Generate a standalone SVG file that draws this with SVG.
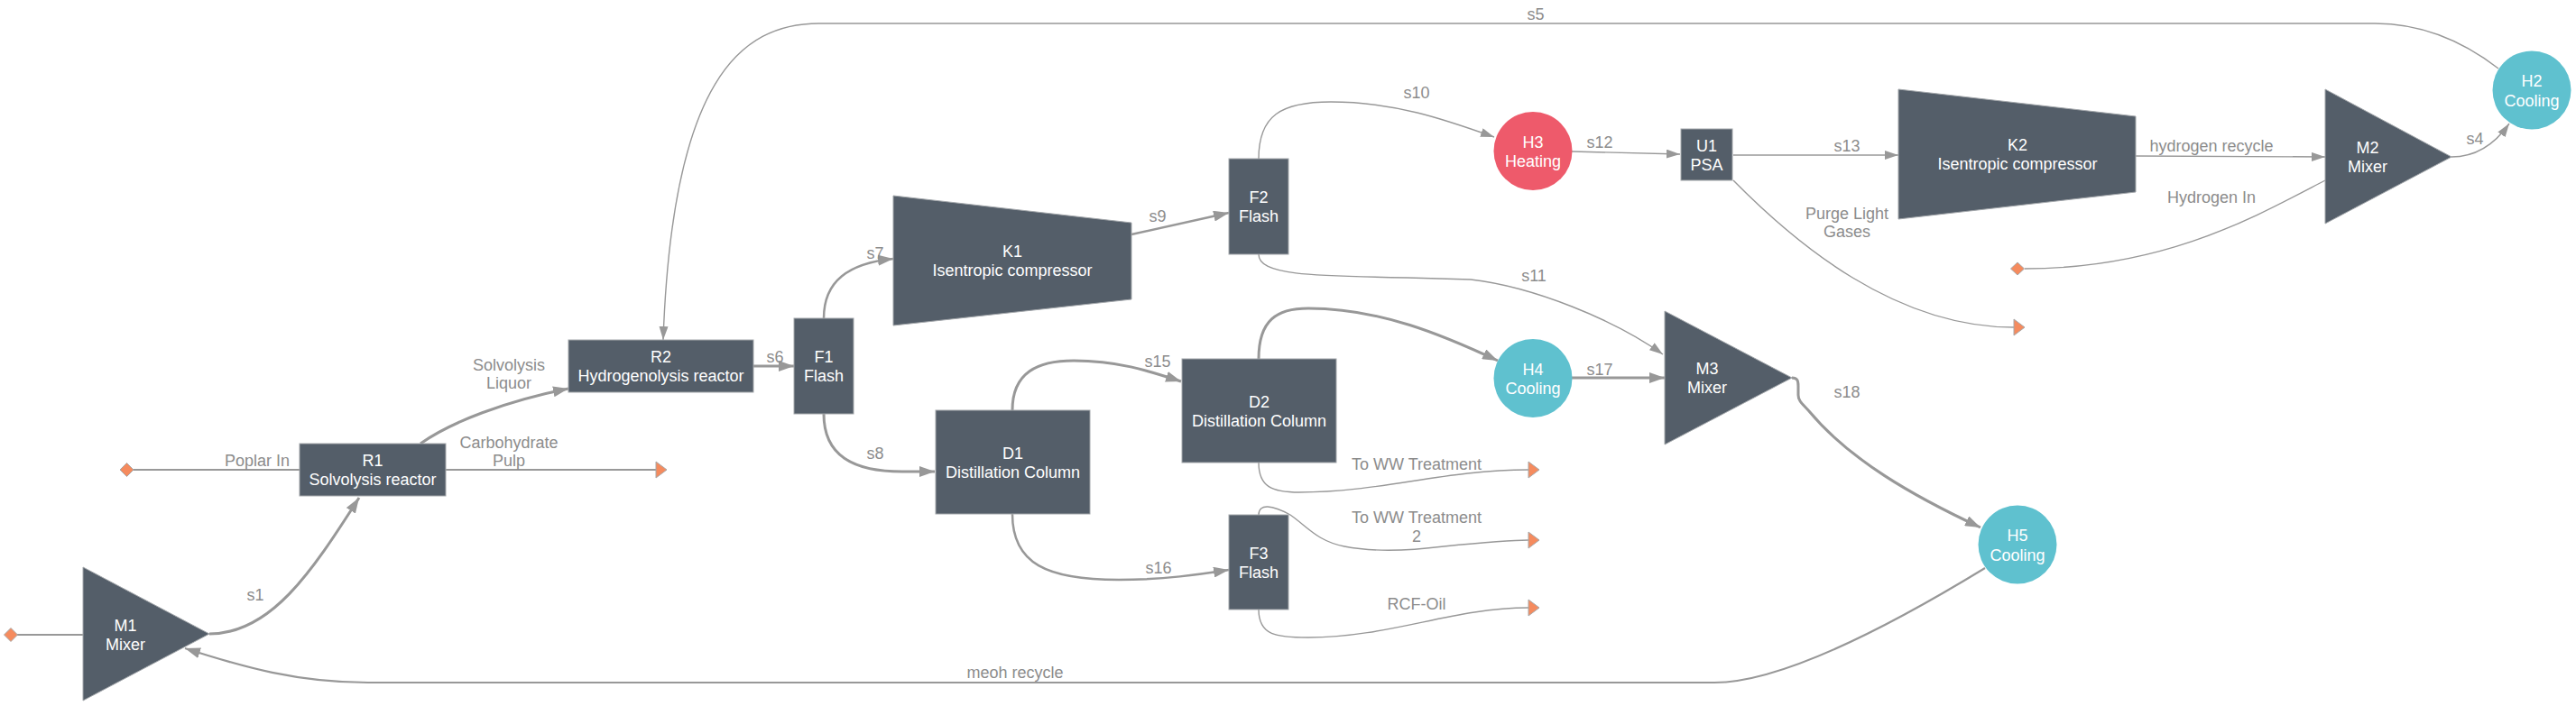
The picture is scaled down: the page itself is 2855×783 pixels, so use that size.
<svg xmlns="http://www.w3.org/2000/svg" width="2855" height="783" viewBox="0 0 2855 783">
<style>
.ln{fill:none;stroke:#989898;stroke-width:1.4}
.md{stroke-width:2}
.tk{stroke-width:3}
.lbl{font-family:"Liberation Sans",Arial,sans-serif;font-size:18px;fill:#8c8c8c;text-anchor:middle}
.nt{font-family:"Liberation Sans",Arial,sans-serif;font-size:18px;fill:#ffffff;text-anchor:middle}
.unit{fill:#545e69;stroke:#a3a7ab;stroke-width:1}
.hot{fill:#ee5a6b}
.cold{fill:#5fc1cf}
.term{fill:#f58b5e;stroke:#a8a8a8;stroke-width:1}
</style>
<defs>
<marker id="aT" viewBox="0 0 17 12" refX="17" refY="6" markerWidth="17" markerHeight="12" markerUnits="userSpaceOnUse" orient="auto"><path d="M0,0 L17,6 L0,12 z" fill="#989898"/></marker>
<marker id="at" viewBox="0 0 15 10" refX="15" refY="5" markerWidth="15" markerHeight="10" markerUnits="userSpaceOnUse" orient="auto"><path d="M0,0 L15,5 L0,10 z" fill="#989898"/></marker>
</defs>
<rect width="2855" height="783" fill="#ffffff"/>
<g id="connectors">
<path class="ln md" d="M148,521 L332,521"/>
<path class="ln md" d="M19,704 L92,704"/>
<path class="ln tk" d="M232,703 C300,703 345,635 398,552" marker-end="url(#aT)"/>
<path class="ln tk" d="M466,492 C500,468 560,445 630,431" marker-end="url(#aT)"/>
<path class="ln md" d="M494,521 L727,521"/>
<path class="ln" d="M2769,76 C2725,42 2680,26 2632,26 L908,26 C820,26 745,90 735,377" marker-end="url(#at)"/>
<path class="ln tk" d="M835,406 L880,406" marker-end="url(#aT)"/>
<path class="ln tk" style="stroke-width:2.5" d="M913,353 C913,312 940,292 990,287" marker-end="url(#aT)"/>
<path class="ln tk" d="M913,459 C913,505 945,523 1000,523 L1036,523" marker-end="url(#aT)"/>
<path class="ln tk" style="stroke-width:2.5" d="M1254,260 L1362,236" marker-end="url(#aT)"/>
<path class="ln" d="M1395,176 C1395,128 1420,113 1475,113 C1545,113 1600,132 1656,152" marker-end="url(#at)"/>
<path class="ln" d="M1395,282 C1395,305 1450,306 1560,308 L1630,310 C1700,318 1790,355 1843,393" marker-end="url(#at)"/>
<path class="ln" d="M1742,168 L1862,171" marker-end="url(#at)"/>
<path class="ln" d="M1921,172 L2104,172" marker-end="url(#at)"/>
<path class="ln" d="M1921,200 C1990,270 2100,363 2232,363"/>
<path class="ln" d="M2367,173 L2577,174" marker-end="url(#at)"/>
<path class="ln" d="M2244,298 C2400,298 2500,240 2577,200"/>
<path class="ln" d="M2717,174 C2745,174 2765,160 2781,137" marker-end="url(#at)"/>
<path class="ln tk" d="M1122,455 C1122,413 1150,400 1190,400 C1240,400 1275,412 1309,423" marker-end="url(#aT)"/>
<path class="ln tk" d="M1395,398 C1395,355 1415,342 1450,342 C1530,342 1600,372 1660,400" marker-end="url(#aT)"/>
<path class="ln tk" d="M1742,419 L1845,419" marker-end="url(#aT)"/>
<path class="ln" d="M1395,513 C1395,540 1410,546 1440,546 C1530,546 1600,521 1694,521"/>
<path class="ln" d="M1395,571 C1395,558 1410,560 1430,571 C1450,585 1460,600 1490,606 C1520,612 1560,611 1600,606 C1640,602 1670,599 1694,599"/>
<path class="ln" d="M1395,676 C1395,705 1415,707 1450,707 C1540,707 1610,674 1694,674"/>
<path class="ln tk" style="stroke-width:2.5" d="M1122,570 C1122,625 1160,643 1240,643 C1290,643 1330,637 1362,632" marker-end="url(#aT)"/>
<path class="ln tk" d="M1986,419 C1992,419 1993,422 1993,428 L1993,438 C1993,445 1998,448 2005,456 C2050,510 2120,550 2195,585" marker-end="url(#aT)"/>
<path class="ln tk" style="stroke-width:2.2" d="M2200,630 Q1992,757 1900,757 L408,757 C330,757 270,740 205,719" marker-end="url(#aT)"/>
<text class="lbl" x="285" y="517">Poplar In</text>
<text class="lbl" x="564" y="497">Carbohydrate</text>
<text class="lbl" x="564" y="517">Pulp</text>
<text class="lbl" x="564" y="411">Solvolysis</text>
<text class="lbl" x="564" y="431">Liquor</text>
<text class="lbl" x="283" y="666">s1</text>
<text class="lbl" x="1702" y="22">s5</text>
<text class="lbl" x="859" y="402">s6</text>
<text class="lbl" x="970" y="287">s7</text>
<text class="lbl" x="970" y="509">s8</text>
<text class="lbl" x="1283" y="246">s9</text>
<text class="lbl" x="1570" y="109">s10</text>
<text class="lbl" x="1700" y="312">s11</text>
<text class="lbl" x="1773" y="164">s12</text>
<text class="lbl" x="2047" y="168">s13</text>
<text class="lbl" x="2047" y="243">Purge Light</text>
<text class="lbl" x="2047" y="263">Gases</text>
<text class="lbl" x="2451" y="168">hydrogen recycle</text>
<text class="lbl" x="2451" y="225">Hydrogen In</text>
<text class="lbl" x="2743" y="160">s4</text>
<text class="lbl" x="1283" y="407">s15</text>
<text class="lbl" x="1773" y="416">s17</text>
<text class="lbl" x="2047" y="441">s18</text>
<text class="lbl" x="1570" y="521">To WW Treatment</text>
<text class="lbl" x="1570" y="580">To WW Treatment</text>
<text class="lbl" x="1570" y="601">2</text>
<text class="lbl" x="1570" y="676">RCF-Oil</text>
<text class="lbl" x="1284" y="636">s16</text>
<text class="lbl" x="1125" y="752">meoh recycle</text>
</g>
<g id="src-poplar"><path class="term" d="M140.5,513.5 L148,521 L140.5,528.5 L133,521 z"/></g>
<g id="src-methanol"><path class="term" d="M12,696.5 L19.5,704 L12,711.5 L4.5,704 z"/></g>
<g id="src-hydrogen"><path class="term" d="M2236,291 L2243.5,298 L2236,305 L2228.5,298 z"/></g>
<g id="sink-pulp"><path class="term" d="M727,512 L739,521 L727,530 z"/></g>
<g id="sink-purge"><path class="term" d="M2232,354 L2244,363 L2232,372 z"/></g>
<g id="sink-ww1"><path class="term" d="M1694,512 L1706,521 L1694,530 z"/></g>
<g id="sink-ww2"><path class="term" d="M1694,590 L1706,599 L1694,608 z"/></g>
<g id="sink-rcf"><path class="term" d="M1694,665 L1706,674 L1694,683 z"/></g>
<g id="M1"><path class="unit" d="M92,629 L232,703 L92,777 z"/><text class="nt" x="139" y="700">M1</text><text class="nt" x="139" y="721">Mixer</text></g>
<g id="R1"><rect class="unit" x="332" y="492" width="162" height="58"/><text class="nt" x="413" y="517">R1</text><text class="nt" x="413" y="538">Solvolysis reactor</text></g>
<g id="R2"><rect class="unit" x="630" y="377" width="205" height="58"/><text class="nt" x="732.5" y="402">R2</text><text class="nt" x="732.5" y="423">Hydrogenolysis reactor</text></g>
<g id="F1"><rect class="unit" x="880" y="353" width="66" height="106"/><text class="nt" x="913" y="402">F1</text><text class="nt" x="913" y="423">Flash</text></g>
<g id="K1"><path class="unit" d="M990,217 L1254,247 L1254,332 L990,361 z"/><text class="nt" x="1122" y="285">K1</text><text class="nt" x="1122" y="306">Isentropic compressor</text></g>
<g id="F2"><rect class="unit" x="1362" y="176" width="66" height="106"/><text class="nt" x="1395" y="225">F2</text><text class="nt" x="1395" y="246">Flash</text></g>
<g id="D1"><rect class="unit" x="1037" y="455" width="171" height="115"/><text class="nt" x="1122.5" y="508.5">D1</text><text class="nt" x="1122.5" y="529.5">Distillation Column</text></g>
<g id="D2"><rect class="unit" x="1310" y="398" width="171" height="115"/><text class="nt" x="1395.5" y="451.5">D2</text><text class="nt" x="1395.5" y="472.5">Distillation Column</text></g>
<g id="F3"><rect class="unit" x="1362" y="571" width="66" height="105"/><text class="nt" x="1395" y="619.5">F3</text><text class="nt" x="1395" y="640.5">Flash</text></g>
<g id="H3"><circle class="hot" cx="1699" cy="167.5" r="43.5"/><text class="nt" x="1699" y="163.5">H3</text><text class="nt" x="1699" y="185">Heating</text></g>
<g id="H4"><circle class="cold" cx="1699" cy="419.5" r="43.5"/><text class="nt" x="1699" y="415.5">H4</text><text class="nt" x="1699" y="437">Cooling</text></g>
<g id="U1"><rect class="unit" x="1863" y="143" width="57" height="57"/><text class="nt" x="1891.5" y="167.5">U1</text><text class="nt" x="1891.5" y="189">PSA</text></g>
<g id="M3"><path class="unit" d="M1845,345 L1986,419 L1845,493 z"/><text class="nt" x="1892" y="415">M3</text><text class="nt" x="1892" y="436">Mixer</text></g>
<g id="K2"><path class="unit" d="M2104,99 L2367,129 L2367,213 L2104,243 z"/><text class="nt" x="2236" y="167">K2</text><text class="nt" x="2236" y="188">Isentropic compressor</text></g>
<g id="M2"><path class="unit" d="M2577,99 L2717,174 L2577,248 z"/><text class="nt" x="2624" y="170">M2</text><text class="nt" x="2624" y="191">Mixer</text></g>
<g id="H2"><circle class="cold" cx="2806" cy="100" r="43.5"/><text class="nt" x="2806" y="96">H2</text><text class="nt" x="2806" y="117.5">Cooling</text></g>
<g id="H5"><circle class="cold" cx="2236" cy="604" r="43.5"/><text class="nt" x="2236" y="600">H5</text><text class="nt" x="2236" y="621.5">Cooling</text></g>
</svg>
